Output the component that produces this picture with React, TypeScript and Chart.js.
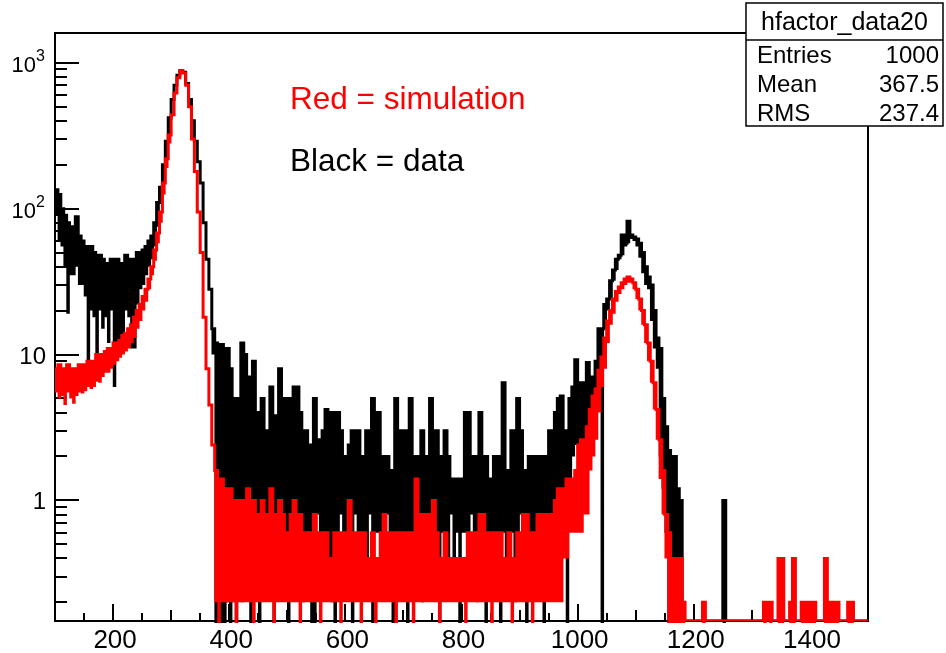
import React, { useEffect, useRef } from "react";
import { Chart, registerables } from "chart.js";

Chart.register(...registerables);

// ---- axis ranges / binning ----
const X_MIN = 100;
const X_MAX = 1500;
const BIN_WIDTH = 5;
const Y_MIN = 0.149;
const Y_MAX = 1600;

// ---- black histogram (data): per 5-unit bin, top of the trace (hi) and lowest dip (lo) ----
const dataHi: number[] = [
  135, 125, 100, 90, 80, 75, 70, 88, 65, 60, 55, 50, 55, 50, 45, 48, 45, 40, 42, 45,
  40, 45, 40, 42, 48, 45, 42, 45, 50, 48, 52, 55, 60, 65, 80, 110, 140, 200, 290, 420,
  560, 700, 820, 880, 860, 720, 560, 400, 290, 210, 150, 80, 45, 28, 15, 12, 9, 11.7, 9, 11,
  8, 3.0, 5, 3.6, 12, 10, 7, 3.0, 9, 4, 3.0, 5, 3.0, 3.0, 6, 3.8, 2.4, 8, 3.0, 5,
  2.4, 5, 6, 6, 4, 2.4, 3.0, 2.0, 2.4, 5, 2.6, 2.0, 3.0, 4.2, 2.4, 4, 3.0, 4, 3.0, 2.0,
  2.0, 2.4, 3.0, 3.0, 3.0, 1.6, 2.0, 3.0, 2.0, 5, 2.2, 4, 1.6, 2.0, 2.0, 1.4, 1.6, 5, 3.0, 1.6,
  3.0, 2.0, 5, 2.0, 2.0, 2.0, 3.0, 2.0, 1.6, 5, 2.0, 3.0, 2.0, 1.6, 3.0, 2.0, 1.4, 1.2, 1.4, 1.2,
  1.4, 4, 4, 2.0, 2.0, 1.6, 4, 1.6, 2.0, 1.4, 1.4, 2.0, 1.2, 2.0, 6.4, 1.4, 1.6, 3.0, 2.0, 5,
  3.0, 1.6, 1.4, 2.0, 1.6, 2.0, 1.4, 2.0, 2.0, 1.6, 3.0, 1.6, 4, 5, 5.2, 3.0, 2.0, 5, 6, 9.2,
  6, 6.4, 5, 8.8, 7, 6, 9, 15, 15, 22, 24, 32, 38, 45, 48, 66, 58, 82, 66, 64,
  62, 58, 50, 40, 34, 30, 20, 13, 11, 5, 3.2, 2.2, 2.0, 2.0, 1.2, 1.0, 0, 0, 0, 0,
  0, 0, 0, 0, 0, 0, 0, 0, 0, 0, 1.0, 0, 0, 0, 0, 0, 0, 0, 0, 0,
  0, 0, 0, 0, 0, 0, 0, 0, 0, 0, 0, 0, 0, 0, 0, 0, 0, 0, 0, 0,
  0, 0, 0, 0, 0, 0, 0, 0, 0, 0, 0, 0, 0, 0, 0, 0, 0, 0, 0, 0,
];
const dataLo: number[] = [
  90, 60, 55, 40, 19, 35, 35, 40, 30, 30, 25, 7.5, 20, 18, 8.3, 20, 15, 18, 12, 20,
  6, 10, 10, 12, 20, 18, 11, 11, 22, 28, 30, 35, 40, 45, 55, 75, 110, 150, 220, 320,
  560, 700, 820, 880, 860, 720, 560, 400, 290, 210, 150, 80, 45, 28, 10, 0, 0, 0, 0, 0.2,
  0, 0.2, 0, 0.4, 0.2, 0.4, 0.6, 0, 0.4, 0.6, 0, 0.6, 0.8, 0.6, 0.4, 0, 0.6, 0.4, 0.8, 0.6,
  0, 0.4, 0.6, 0.8, 0.4, 0.2, 0.6, 0.6, 0, 0, 0.8, 0.6, 0.4, 0.6, 0.4, 0.2, 0, 0.6, 0.8, 0.6,
  0.4, 0.6, 0, 0.8, 0.4, 0.6, 0.6, 0.4, 0.8, 0, 0.6, 0.6, 0.4, 0.6, 0.8, 0.6, 0, 0.4, 0.6, 0.6,
  0.4, 0, 0.6, 0.6, 0.4, 0.6, 0.2, 0.6, 0.4, 0.6, 0.8, 0.4, 0, 0.6, 0.6, 0.4, 0.8, 0.4, 0.6, 0,
  0.6, 0.6, 0.4, 0.8, 0.6, 0.2, 0.6, 0.8, 0, 0.6, 0.6, 0.4, 0.6, 0, 0.6, 0.4, 0.6, 0.6, 0.2, 0.6,
  0.8, 0.6, 0, 0.6, 0.6, 0.4, 0.6, 0.6, 0, 0.6, 0.6, 0.4, 0.8, 0.6, 1.0, 0.8, 0, 1.2, 2.0, 2.4,
  2.2, 2.4, 2.2, 3.0, 3.0, 3.4, 4, 5, 0, 15, 20, 24, 32, 38, 45, 48, 55, 58, 62, 60,
  55, 46, 36, 30, 28, 17, 11, 8, 2.0, 1.2, 0.6, 0, 0.4, 0, 0, 0, 0, 0, 0, 0,
  0, 0, 0, 0, 0, 0, 0, 0, 0, 0, 0, 0, 0, 0, 0, 0, 0, 0, 0, 0,
  0, 0, 0, 0, 0, 0, 0, 0, 0, 0, 0, 0, 0, 0, 0, 0, 0, 0, 0, 0,
  0, 0, 0, 0, 0, 0, 0, 0, 0, 0, 0, 0, 0, 0, 0, 0, 0, 0, 0, 0,
];

// ---- red histogram (simulation) ----
const simHi: number[] = [
  8, 8.5, 8, 7.5, 8.5, 8, 7.5, 8, 8.5, 8, 8.5, 9, 8.5, 9, 10, 9.5, 10, 10.5, 11, 11,
  12, 12, 12.5, 13.5, 14, 15, 16, 18, 20, 22, 25, 28, 33, 40, 52, 68, 95, 150, 220, 320,
  440, 620, 790, 880, 850, 700, 500, 300, 180, 95, 50, 18, 8, 4.5, 2.4, 1.6, 1.4, 1.4, 1.2, 1.2,
  1.2, 1.0, 0.8, 1.0, 0.8, 1.0, 1.2, 0.8, 1.0, 0.6, 0.8, 1.0, 0.6, 0.8, 1.2, 0.6, 0.8, 1.0, 0.8, 0.6,
  0.6, 0.8, 1.0, 0.6, 0.8, 0.6, 0.6, 0.4, 0.6, 0.8, 0.6, 0.6, 0.4, 0.6, 0.4, 0.4, 0.6, 0.6, 0.4, 0.6,
  0.4, 1.0, 0.6, 0.6, 0.6, 0.6, 0.6, 0.4, 0.4, 0.6, 0.4, 0.4, 0.6, 0.8, 0.6, 0.6, 0.6, 0.6, 0.6, 0.6,
  0.6, 0.6, 0.6, 0.6, 1.4, 0.8, 0.8, 0.8, 0.6, 0.8, 1.0, 0.6, 0.4, 0.4, 0.6, 0.4, 0.4, 0.4, 0.4, 0.4,
  0.4, 0.4, 0.6, 0.6, 0.6, 0.6, 0.8, 0.8, 0.6, 0.6, 0.6, 0.6, 0.6, 0.6, 0.4, 0.4, 0.6, 0.4, 0.4, 0.6,
  0.6, 0.8, 0.8, 0.6, 0.6, 0.6, 0.8, 0.8, 0.8, 0.8, 0.6, 0.8, 1.0, 1.2, 1.0, 1.2, 1.4, 1.4, 1.2, 1.6,
  2.4, 2.6, 2.4, 3.2, 4.2, 5.2, 5.8, 7.8, 9.6, 13, 17, 20, 24, 27, 29, 31, 33, 34, 33, 31,
  28, 24, 20, 16, 12, 9, 6.4, 4.2, 2.6, 1.6, 0.8, 0.6, 0.2, 0.4, 0.2, 0.4, 0.2, 0, 0, 0,
  0, 0, 0, 0.2, 0, 0, 0, 0, 0, 0, 0, 0, 0, 0, 0, 0, 0, 0, 0, 0,
  0, 0, 0, 0, 0.2, 0, 0.2, 0, 0, 0.4, 0.4, 0, 0, 0.2, 0.4, 0, 0, 0.2, 0.2, 0.2,
  0.2, 0.2, 0, 0, 0, 0.4, 0.2, 0.2, 0.2, 0.2, 0, 0, 0, 0.2, 0.2, 0, 0, 0, 0, 0,
];
const simLo: number[] = [
  5.5, 5, 5.2, 4.5, 5.5, 5, 4.6, 5.2, 5.5, 5.4, 5.6, 6, 5.8, 6, 6.5, 6.4, 7, 7.5, 7.5, 8,
  8.5, 9, 9.5, 10, 10.5, 11, 12, 13, 15, 17, 20, 23, 28, 35, 44, 58, 80, 125, 190, 280,
  440, 620, 790, 880, 850, 700, 500, 300, 180, 95, 50, 18, 8, 4.5, 2.4, 0.2, 0, 0.2, 0.2, 0.2,
  0.2, 0.2, 0, 0.2, 0.2, 0.2, 0.2, 0.2, 0, 0.2, 0.2, 0.2, 0.2, 0.2, 0.2, 0, 0.2, 0.2, 0.2, 0.2,
  0.2, 0.2, 0.2, 0.2, 0, 0.2, 0.2, 0.2, 0.2, 0.2, 0.2, 0, 0.2, 0.2, 0.2, 0.2, 0.2, 0.2, 0, 0.2,
  0.2, 0.2, 0.2, 0.2, 0.2, 0, 0.2, 0.2, 0.2, 0.2, 0, 0.2, 0.2, 0.2, 0.2, 0.2, 0.2, 0, 0.2, 0.2,
  0.2, 0.2, 0.2, 0, 0.2, 0.2, 0.2, 0.2, 0.2, 0.2, 0.2, 0.2, 0, 0.2, 0.2, 0.2, 0.2, 0.2, 0.2, 0.2,
  0.2, 0, 0.2, 0.2, 0.2, 0.2, 0.2, 0.2, 0.2, 0.2, 0, 0.2, 0.2, 0.2, 0.2, 0.2, 0.2, 0, 0.2, 0.2,
  0.2, 0.2, 0.2, 0.2, 0, 0.2, 0.2, 0.2, 0.2, 0.2, 0.2, 0.2, 0.2, 0.2, 0.2, 0.4, 0.4, 0.6, 0.6, 0.6,
  0.6, 0.6, 0.8, 0.8, 1.6, 2.0, 2.6, 4, 6, 8, 12, 16, 19, 23, 26, 28, 30, 31, 31, 28,
  24, 20, 16, 12, 9, 6.4, 4.2, 2.6, 1.4, 0.8, 0.4, 0, 0, 0, 0, 0, 0, 0, 0, 0,
  0, 0, 0, 0, 0, 0, 0, 0, 0, 0, 0, 0, 0, 0, 0, 0, 0, 0, 0, 0,
  0, 0, 0, 0, 0, 0, 0, 0, 0, 0, 0, 0, 0, 0, 0, 0, 0, 0, 0, 0,
  0, 0, 0, 0, 0, 0, 0, 0, 0, 0, 0, 0, 0, 0, 0, 0, 0, 0, 0, 0,
];

// ---- axis tick labels ----
const xTickLabels = [200, 400, 600, 800, 1000, 1200, 1400];
const X_MINOR_STEP = 50;
const yTickValues = [1, 10, 100, 1000];
const yTickBases = ["1", "10", "10", "10"];
const yTickExps = ["", "", "2", "3"];

// ---- texts ----
const simText = "Red = simulation";
const dataText = "Black = data";
const statsTitle = "hfactor_data20";
const statsNames = ["Entries", "Mean", "RMS"];
const statsValues = ["1000", "367.5", "237.4"];

const FONT = '"Liberation Sans", Arial, Helvetica, sans-serif';
const RED = "#ff0000";
const BLACK = "#000000";

function stepPoints(values: number[]) {
  const pts: { x: number; y: number }[] = [];
  values.forEach((v, i) => {
    const x0 = X_MIN + i * BIN_WIDTH;
    const y = v > 0 ? v : Y_MIN;
    pts.push({ x: x0, y });
    pts.push({ x: x0 + BIN_WIDTH, y });
  });
  return pts;
}

const bands: Record<string, { hi: number[]; lo: number[]; color: string }> = {
  data: { hi: dataHi, lo: dataLo, color: BLACK },
  simulation: { hi: simHi, lo: simLo, color: RED },
};

const rootPlugin = {
  id: "rootStyle",
  beforeDatasetsDraw(chart: any) {
    const { ctx, chartArea: a, scales } = chart;
    const xs = scales.x;
    const ys = scales.y;
    ctx.save();
    ctx.strokeStyle = "#000";
    ctx.lineWidth = 2;
    ctx.strokeRect(a.left, a.top, a.right - a.left, a.bottom - a.top);
    ctx.beginPath();
    for (let v = X_MIN + X_MINOR_STEP; v < X_MAX; v += X_MINOR_STEP) {
      const px = Math.round(xs.getPixelForValue(v));
      const len = v % 200 === 0 ? 17 : v % 100 === 0 ? 11 : 8;
      ctx.moveTo(px, a.bottom);
      ctx.lineTo(px, a.bottom - len);
    }
    for (let k = -1; k <= 3; k++) {
      for (let m = 1; m <= 9; m++) {
        const val = m * Math.pow(10, k);
        if (val < Y_MIN || val > Y_MAX) continue;
        const py = Math.round(ys.getPixelForValue(val));
        const len = m === 1 ? 24 : 12;
        ctx.moveTo(a.left, py);
        ctx.lineTo(a.left + len, py);
      }
    }
    ctx.stroke();
    ctx.restore();
  },
  beforeDatasetDraw(chart: any, args: any) {
    const ds = chart.data.datasets[args.index];
    const band = bands[ds.label];
    if (!band) return;
    const { ctx, chartArea: a, scales } = chart;
    const xs = scales.x;
    const ys = scales.y;
    ctx.save();
    ctx.beginPath();
    ctx.rect(a.left, a.top, a.right - a.left, a.bottom - a.top + 2);
    ctx.clip();
    ctx.fillStyle = band.color;
    ctx.beginPath();
    band.hi.forEach((h, i) => {
      const l = band.lo[i];
      if (!(h > l)) return;
      const x0 = xs.getPixelForValue(X_MIN + i * BIN_WIDTH);
      const x1 = xs.getPixelForValue(X_MIN + (i + 1) * BIN_WIDTH);
      const yTop = ys.getPixelForValue(h > 0 ? h : Y_MIN);
      const yBot = ys.getPixelForValue(l > 0 ? l : Y_MIN) + (l > 0 ? 0 : 2);
      ctx.rect(x0 - 0.3, yTop, x1 - x0 + 0.6, yBot - yTop);
    });
    ctx.fill("nonzero");
    ctx.restore();
  },
  afterDraw(chart: any) {
    const { ctx, chartArea: a, scales } = chart;
    const xs = scales.x;
    const ys = scales.y;
    ctx.save();
    ctx.fillStyle = "#000";
    ctx.textBaseline = "alphabetic";
    // x labels
    ctx.font = `26px ${FONT}`;
    ctx.textAlign = "center";
    xTickLabels.forEach((v) => {
      ctx.fillText(String(v), xs.getPixelForValue(v) + 2, a.bottom + 27);
    });
    // y labels
    yTickValues.forEach((v, i) => {
      const py = ys.getPixelForValue(v);
      if (yTickExps[i]) {
        ctx.font = `16px ${FONT}`;
        ctx.textAlign = "left";
        ctx.fillText(yTickExps[i], 36, py - 2);
        ctx.font = `22px ${FONT}`;
        ctx.textAlign = "right";
        ctx.fillText(yTickBases[i], 36, py + 9);
      } else {
        ctx.font = `24px ${FONT}`;
        ctx.textAlign = "right";
        ctx.fillText(yTickBases[i], 46, py + 9);
      }
    });
    // annotations
    ctx.textAlign = "left";
    ctx.font = `31.5px ${FONT}`;
    ctx.fillStyle = RED;
    ctx.fillText(simText, 290, 109);
    ctx.fillStyle = "#000";
    ctx.fillText(dataText, 290, 171);
    // stats box
    const bx = 746, by = 3, bw = 197, bh = 123;
    ctx.fillStyle = "#fff";
    ctx.fillRect(bx, by, bw, bh);
    ctx.strokeStyle = "#000";
    ctx.lineWidth = 1.5;
    ctx.strokeRect(bx, by, bw, bh);
    ctx.beginPath();
    ctx.moveTo(bx, 40);
    ctx.lineTo(bx + bw, 40);
    ctx.stroke();
    ctx.fillStyle = "#000";
    ctx.font = `25px ${FONT}`;
    ctx.textAlign = "center";
    ctx.fillText(statsTitle, bx + bw / 2, 30);
    ctx.font = `24px ${FONT}`;
    statsNames.forEach((n, i) => {
      const yb = 63 + i * 29;
      ctx.textAlign = "left";
      ctx.fillText(n, bx + 11, yb);
      ctx.textAlign = "right";
      ctx.fillText(statsValues[i], bx + bw - 4, yb);
    });
    ctx.restore();
  },
};

export default function App() {
  const canvasRef = useRef<HTMLCanvasElement | null>(null);

  useEffect(() => {
    const canvas = canvasRef.current;
    if (!canvas) return;
    const chart = new Chart(canvas, {
      type: "line",
      data: {
        datasets: [
          {
            label: "simulation",
            data: stepPoints(simHi),
            borderColor: RED,
            borderWidth: 3,
            pointRadius: 0,
            fill: false,
            tension: 0,
            order: 0,
          },
          {
            label: "data",
            data: stepPoints(dataHi),
            borderColor: BLACK,
            borderWidth: 3,
            pointRadius: 0,
            fill: false,
            tension: 0,
            order: 1,
          },
        ],
      },
      options: {
        animation: false,
        responsive: false,
        maintainAspectRatio: false,
        devicePixelRatio: 1,
        layout: { padding: { left: 55, top: 33, right: 78, bottom: 32 } },
        plugins: { legend: { display: false }, tooltip: { enabled: false } },
        events: [],
        scales: {
          x: { type: "linear", min: X_MIN, max: X_MAX, display: false },
          y: { type: "logarithmic", min: Y_MIN, max: Y_MAX, display: false },
        },
      },
      plugins: [rootPlugin],
    });
    return () => chart.destroy();
  }, []);

  return (
    <div style={{ position: "fixed", left: 0, top: 0, width: 946, height: 653, background: "#fff" }}>
      <canvas ref={canvasRef} width={946} height={653} style={{ display: "block" }} />
    </div>
  );
}
